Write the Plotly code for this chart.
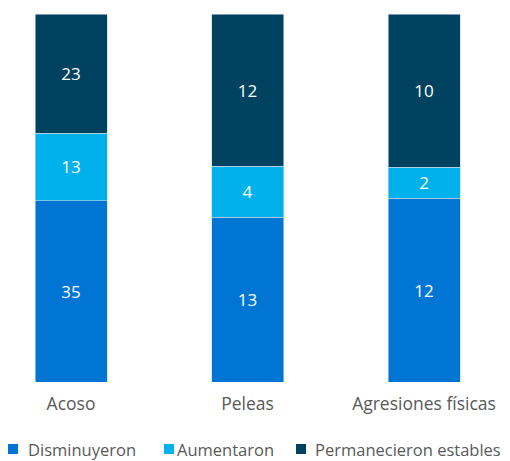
import plotly.graph_objects as go

categories = ["Acoso", "Peleas", "Agresiones físicas"]
disminuyeron = [35, 13, 12]
aumentaron = [13, 4, 2]
permanecieron = [23, 12, 10]

series_names = ["Disminuyeron", "Aumentaron", "Permanecieron estables"]
series_values = [disminuyeron, aumentaron, permanecieron]
series_colors = ["#0075D3", "#00B1EB", "#00425F"]

FONT = "Open Sans"
# page has an 8px body margin, so the figure is sized to fill the rest of the window
W, H = 502, 453
PLOT_TOP, PLOT_BOTTOM = 6, 374

fig = go.Figure()
for name, vals, color in zip(series_names, series_values, series_colors):
    fig.add_trace(go.Bar(
        x=categories, y=vals, name=name,
        marker=dict(color=color, line=dict(color="#C8D6E2", width=0.6)),
        text=vals, texttemplate="%{text}", textposition="inside",
        insidetextanchor="middle",
        textfont=dict(color="white", size=17, family=FONT),
        width=0.408, showlegend=False,
    ))

# custom legend (squares + labels) positioned in pixels
legend_square_x = [0, 156, 288]
legend_text_x = [18, 167, 305]
legend_y = 441
ph = PLOT_BOTTOM - PLOT_TOP

def py(y):
    return (PLOT_BOTTOM - y) / ph

for name, color, sx, tx in zip(series_names, series_colors, legend_square_x, legend_text_x):
    fig.add_shape(type="rect", xref="paper", yref="paper",
                  x0=sx / W, x1=(sx + 10) / W, y0=py(legend_y + 5), y1=py(legend_y - 5),
                  fillcolor=color, line=dict(width=0))
    fig.add_annotation(text=name, xref="paper", yref="paper", x=tx / W, y=py(legend_y),
                       xanchor="left", yanchor="middle", showarrow=False,
                       font=dict(size=16.5, color="#595959", family=FONT))

fig.update_layout(
    barmode="stack", barnorm="fraction",
    width=W, height=H,
    margin=dict(l=0, r=0, t=PLOT_TOP, b=H - PLOT_BOTTOM, autoexpand=False),
    paper_bgcolor="white", plot_bgcolor="white",
    font=dict(family=FONT, size=17, color="#595959"),
    showlegend=False,
    uniformtext=dict(mode=False),
)
fig.update_xaxes(range=[-0.357, 2.487], showgrid=False, showline=False, zeroline=False,
                 ticks="outside", ticklen=6, tickcolor="rgba(0,0,0,0)",
                 tickfont=dict(size=17.5, color="#595959", family=FONT))
fig.update_yaxes(range=[0, 1], visible=False, showgrid=False)

fig.write_html("out.html")
